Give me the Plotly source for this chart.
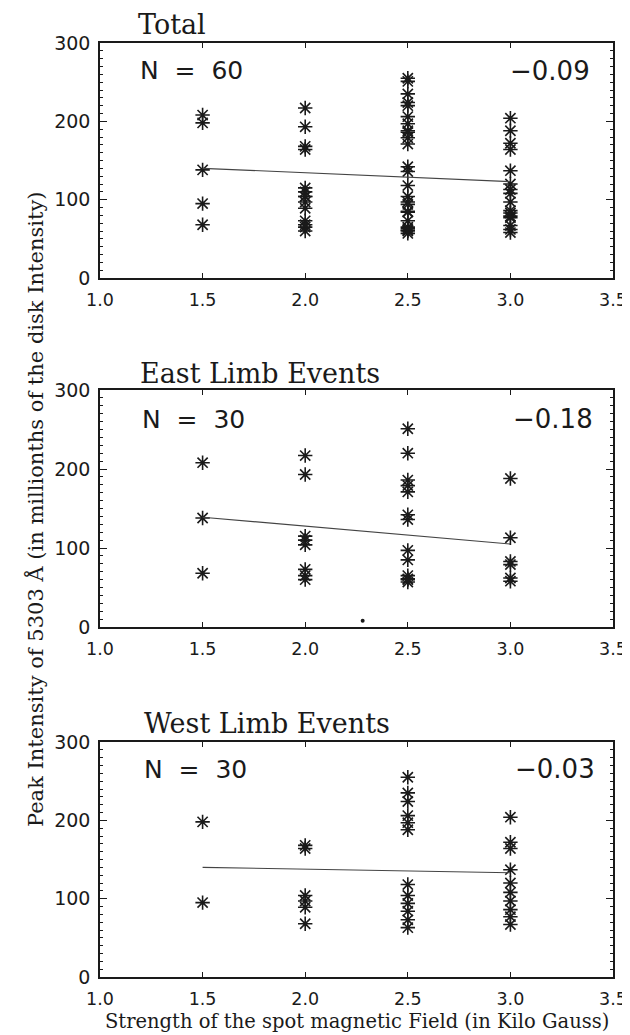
import plotly.graph_objects as go

# ---------------- data ----------------
east_field = [1.5, 1.5, 1.5,
              2.0, 2.0, 2.0, 2.0, 2.0, 2.0, 2.0, 2.0,
              2.5, 2.5, 2.5, 2.5, 2.5, 2.5, 2.5, 2.5, 2.5, 2.5, 2.5, 2.5, 2.5,
              3.0, 3.0, 3.0, 3.0, 3.0, 3.0]
east_peak = [208, 138, 68,
             217, 193, 115, 110, 104, 73, 65, 60,
             251, 220, 186, 179, 171, 142, 136, 97, 85, 65, 61, 57, 60,
             188, 113, 83, 79, 62, 58]

west_field = [1.5, 1.5,
              2.0, 2.0, 2.0, 2.0, 2.0, 2.0,
              2.5, 2.5, 2.5, 2.5, 2.5, 2.5, 2.5, 2.5, 2.5, 2.5, 2.5, 2.5,
              3.0, 3.0, 3.0, 3.0, 3.0, 3.0, 3.0, 3.0, 3.0, 3.0]
west_peak = [198, 95,
             168, 164, 104, 97, 89, 68,
             255, 235, 224, 206, 197, 188, 118, 104, 94, 84, 73, 63,
             204, 172, 164, 137, 120, 108, 97, 86, 77, 67]

total_field = east_field + west_field
total_peak = east_peak + west_peak

fit_field = [1.5, 3.0]
total_fit = [140, 123]
east_fit = [139, 105]
west_fit = [140, 133]

panel_titles = ["Total", "East Limb Events", "West Limb Events"]
panel_counts = ["N = 60", "N = 30", "N = 30"]
panel_corr = ["\u22120.09", "\u22120.18", "\u22120.03"]

speck_field = [2.28]
speck_peak = [8]

x_ticks = [1.0, 1.5, 2.0, 2.5, 3.0, 3.5]
y_ticks = [0, 100, 200, 300]

x_title = "Strength of the spot magnetic Field (in Kilo Gauss)"
y_title = "Peak Intensity of 5303 \u00c5 (in millionths of the disk Intensity)"

# ---------------- layout geometry (screen pixels) ----------------
W, H = 630, 1035
OFF = 8  # page body margin: the figure is drawn 8 px right / down
box_left, box_right = 100, 613
boxes = [(43, 278), (390, 627), (742, 977)]  # top, bottom

def px(x):
    return (x - OFF) / W

def py(y):
    return 1 - (y - OFF) / H

INK = "#1a1a1a"
SANS = "DejaVu Sans"
SERIF = "DejaVu Serif"

fig = go.Figure()

datasets = [(total_field, total_peak, total_fit),
            (east_field, east_peak, east_fit),
            (west_field, west_peak, west_fit)]

for i, (fx, fy, fit) in enumerate(datasets):
    xa = "x" if i == 0 else f"x{i+1}"
    ya = "y" if i == 0 else f"y{i+1}"
    fig.add_trace(go.Scatter(
        x=fx, y=fy, mode="markers", xaxis=xa, yaxis=ya,
        marker=dict(symbol="asterisk-open", size=12, color=INK,
                    line=dict(color=INK, width=1.6)),
        showlegend=False, hoverinfo="x+y"))
    fig.add_trace(go.Scatter(
        x=fit_field, y=fit, mode="lines", xaxis=xa, yaxis=ya,
        line=dict(color="#444444", width=1.1),
        showlegend=False, hoverinfo="skip"))

# small speck in the East panel
fig.add_trace(go.Scatter(x=speck_field, y=speck_peak, mode="markers",
                         xaxis="x2", yaxis="y2",
                         marker=dict(symbol="circle", size=4, color=INK),
                         showlegend=False, hoverinfo="skip"))

layout = dict(
    template="none",
    width=W, height=H, autosize=False,
    margin=dict(l=0, r=0, t=0, b=0, pad=0, autoexpand=False),
    paper_bgcolor="white", plot_bgcolor="white",
    showlegend=False,
)

for i, (top, bottom) in enumerate(boxes):
    xk = "xaxis" if i == 0 else f"xaxis{i+1}"
    yk = "yaxis" if i == 0 else f"yaxis{i+1}"
    ya = "y" if i == 0 else f"y{i+1}"
    xa = "x" if i == 0 else f"x{i+1}"
    layout[xk] = dict(
        domain=[px(box_left), px(box_right)], anchor=ya, automargin=False,
        range=[1.0, 3.5], tickvals=x_ticks, ticktext=[f"{v:.1f}" for v in x_ticks],
        ticks="inside", ticklen=5, tickwidth=1.3, tickcolor=INK,
        showline=True, linecolor=INK, linewidth=1.6, mirror="allticks",
        showgrid=False, zeroline=False,
        tickfont=dict(family=SANS, size=17.5, color=INK),
        ticklabelstandoff=5,
    )
    layout[yk] = dict(
        domain=[py(bottom), py(top)], anchor=xa, automargin=False,
        range=[0, 300], tickvals=y_ticks, ticktext=[str(v) for v in y_ticks],
        ticks="inside", ticklen=7, tickwidth=1.3, tickcolor=INK,
        showline=True, linecolor=INK, linewidth=1.6, mirror="allticks",
        showgrid=False, zeroline=False,
        tickfont=dict(family=SANS, size=19, color=INK),
        ticklabelstandoff=4,
        minor=dict(dtick=10, ticks="inside", ticklen=3.5, tickwidth=1, tickcolor=INK,
                   showgrid=False),
    )

annotations = []
title_tops = [9, 358, 708]
title_lefts = [138, 140, 144]
count_centers = [71, 419, 769]
count_lefts = [138, 140, 142]
corr_rights = [592, 595, 597]
for i in range(3):
    annotations.append(dict(
        text=panel_titles[i], x=px(title_lefts[i]), y=py(title_tops[i]),
        xref="paper", yref="paper", xanchor="left", yanchor="top",
        borderpad=0, borderwidth=0,
        showarrow=False, font=dict(family=SERIF, size=27, color=INK)))
    annotations.append(dict(
        text=panel_counts[i].replace(" ", "\u00a0\u00a0"), x=px(count_lefts[i]), y=py(count_centers[i]),
        xref="paper", yref="paper", xanchor="left", yanchor="middle",
        showarrow=False, font=dict(family=SANS, size=25, color=INK)))
    annotations.append(dict(
        text=panel_corr[i], x=px(corr_rights[i]), y=py(count_centers[i]),
        xref="paper", yref="paper", xanchor="right", yanchor="middle",
        showarrow=False, font=dict(family=SANS, size=26, color=INK)))

annotations.append(dict(
    text=x_title, x=px(357), y=py(1008), xref="paper", yref="paper",
    xanchor="center", yanchor="top", showarrow=False,
    font=dict(family=SERIF, size=19.5, color=INK)))
annotations.append(dict(
    text=y_title, x=px(35), y=py(510), xref="paper", yref="paper",
    xanchor="center", yanchor="middle", showarrow=False, textangle=-90,
    font=dict(family=SERIF, size=21, color=INK)))

layout["annotations"] = annotations
fig.update_layout(**layout)

fig.write_html("out.html")
